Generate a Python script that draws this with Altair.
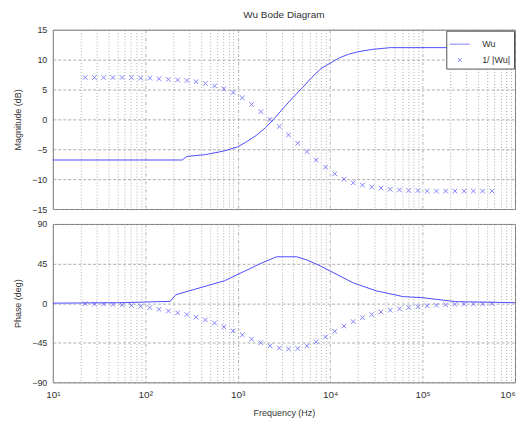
import altair as alt
import pandas as pd

TITLE = "Wu Bode Diagram"
SERIES = ["Wu", "1/ |Wu|"]

# Wu magnitude (solid line)
line_mag_hz = [10, 251, 282, 447, 708, 1000, 1259, 1585, 1995, 2512, 3162, 3981,
               5012, 6310, 7943, 10000, 12589, 15849, 19953, 28184, 44668, 1000000]
line_mag_db = [-6.8, -6.8, -6.2, -5.9, -5.3, -4.6, -3.7, -2.7, -1.4, 0.2, 2.0, 3.7,
               5.3, 7.0, 8.5, 9.4, 10.3, 10.9, 11.3, 11.7, 12.0, 12.0]

# Wu phase (solid line)
line_ph_hz = [10, 52.5, 186, 214, 724, 1738, 2630, 4365, 5623, 7762, 17783, 31623,
              61660, 100000, 229087, 1000000]
line_ph_deg = [0, 0.5, 2, 9.6, 25.5, 44.7, 52.7, 52.7, 49, 42.5, 23, 14,
               7.4, 6.2, 1.7, 0.5]

# 1/|Wu| markers
mk_hz = [22.4, 28.2, 35.5, 44.7, 56.2, 70.8, 89.1, 112, 141, 178, 224, 282, 355, 447,
         562, 708, 891, 1122, 1413, 1778, 2239, 2818, 3548, 4467, 5623, 7079, 8913,
         11220, 14125, 17783, 22387, 28184, 35481, 44668, 56234, 70795, 89125,
         112202, 141254, 177828, 223872, 281838, 354813, 446684, 562341]
mk_db = [7.0, 7.0, 7.0, 7.0, 7.0, 7.0, 6.9, 6.9, 6.8, 6.7, 6.6, 6.5, 6.3, 6.0,
         5.6, 5.1, 4.5, 3.6, 2.5, 1.3, 0.0, -1.2, -2.6, -4.0, -5.4, -6.8, -8.0,
         -9.1, -10.0, -10.6, -11.0, -11.3, -11.5, -11.7, -11.8, -11.9, -11.9,
         -12.0, -12.0, -12.0, -12.0, -12.0, -12.0, -12.0, -12.0]
mk_deg = [-0.5, -1, -1, -1.5, -2, -2.5, -3.5, -5, -7, -9, -11, -13, -16, -19,
          -22.5, -27, -31.5, -36, -41, -45, -48.5, -51, -52, -51.5, -48.5, -44,
          -38.5, -32, -26, -21, -16.5, -13, -10, -8, -6.5, -5, -4, -3, -2.3, -1.8,
          -1.4, -1.1, -0.9, -0.7, -0.5]

mag_ticks = [-15, -10, -5, 0, 5, 10, 15]
ph_ticks = [-90, -45, 0, 45, 90]
x_ticks = [m * 10 ** k for k in range(1, 6) for m in range(1, 10)] + [10 ** 6]

BLUE = "#4d4dff"
XPATH = "M-0.2,-0.2L0.2,0.2M0.2,-0.2L-0.2,0.2"
FONT = "Liberation Sans"
W, H1, H2 = 464, 180, 159

mag_line_df = pd.DataFrame({"f": line_mag_hz, "v": line_mag_db, "s": SERIES[0]})
ph_line_df = pd.DataFrame({"f": line_ph_hz, "v": line_ph_deg, "s": SERIES[0]})
mk_mag_df = pd.DataFrame({"f": mk_hz, "v": mk_db, "s": SERIES[1]})
mk_ph_df = pd.DataFrame({"f": mk_hz, "v": mk_deg, "s": SERIES[1]})

major_test = "abs(log(datum.value)/LN10 - round(log(datum.value)/LN10)) < 0.001"
xscale = alt.Scale(type="log", domain=[10, 1e6], nice=False)
x_grid_dash = {"condition": {"test": major_test, "value": [3, 2, 1, 2]}, "value": [1, 2]}

x_axis_top = alt.Axis(values=x_ticks, labels=False, ticks=False, title=None,
                      domain=False, grid=True, gridDash=x_grid_dash,
                      labelPadding=0, minExtent=0, maxExtent=0)
x_axis_bot = alt.Axis(values=x_ticks, ticks=False, title="Frequency (Hz)", domain=False,
                      grid=True, gridDash=x_grid_dash, labelFlush=False, labelOverlap=False,
                      labelPadding=7, titlePadding=9, labelFontSize=10,
                      labelAlign={"condition": {"test": "datum.value >= 999999", "value": "right"},
                                  "value": "center"},
                      labelExpr=major_test + " ? '10' + ['\u2070','\u00b9','\u00b2','\u00b3','\u2074','\u2075','\u2076'][round(log(datum.value)/LN10)] : ''")


def yaxis(vals, title):
    return alt.Axis(values=vals, tickCount=len(vals), ticks=False, domain=False,
                    title=title, grid=True, gridDash=[3, 2], labelPadding=6,
                    titlePadding=9, labelOverlap=False)


top_line = alt.Chart(mag_line_df).mark_line(color=BLUE, strokeWidth=1).encode(
    x=alt.X("f:Q", scale=xscale, axis=x_axis_top),
    y=alt.Y("v:Q", scale=alt.Scale(domain=[-15, 15], nice=False),
            axis=yaxis(mag_ticks, "Magnitude (dB)")),
)
top_pts = alt.Chart(mk_mag_df).mark_point(color=BLUE, size=529, filled=False,
                                          strokeWidth=1).encode(
    x=alt.X("f:Q", scale=xscale, axis=x_axis_top),
    y=alt.Y("v:Q", scale=alt.Scale(domain=[-15, 15], nice=False),
            axis=yaxis(mag_ticks, "Magnitude (dB)")),
    shape=alt.Shape("s:N", scale=alt.Scale(domain=SERIES, range=["stroke", XPATH]),
                    legend=alt.Legend(title=None, orient="top-right", offset=1,
                                      padding=3, rowPadding=0, symbolSize=400,
                                      symbolStrokeColor=BLUE, symbolStrokeWidth=1,
                                      labelFontSize=9, labelFont=FONT, labelColor="#333",
                                      strokeColor="#555", fillColor="white",
                                      labelOffset=12)),
)
top = alt.layer(top_line, top_pts).properties(
    width=W, height=H1,
    title=alt.TitleParams(TITLE, anchor="middle", fontSize=10, font=FONT,
                          fontWeight="normal", color="#333", offset=6),
)

bot_line = alt.Chart(ph_line_df).mark_line(color=BLUE, strokeWidth=1).encode(
    x=alt.X("f:Q", scale=xscale, axis=x_axis_bot),
    y=alt.Y("v:Q", scale=alt.Scale(domain=[-90, 90], nice=False),
            axis=yaxis(ph_ticks, "Phase (deg)")),
)
bot_pts = alt.Chart(mk_ph_df).mark_point(color=BLUE, size=529, filled=False,
                                         strokeWidth=1, shape=XPATH).encode(
    x=alt.X("f:Q", scale=xscale, axis=x_axis_bot),
    y=alt.Y("v:Q", scale=alt.Scale(domain=[-90, 90], nice=False),
            axis=yaxis(ph_ticks, "Phase (deg)")),
)
bot = alt.layer(bot_line, bot_pts).properties(width=W, height=H2)

chart = alt.vconcat(top, bot, spacing=4).resolve_legend(shape="independent").properties(
    padding={"left": 5, "top": 0, "right": 0, "bottom": 0}
).configure_view(stroke="#777", strokeWidth=1).configure_axis(
    labelFont=FONT, titleFont=FONT, labelFontSize=9, titleFontSize=9,
    labelColor="#333", titleColor="#333", titleFontWeight="normal",
    gridColor="#999", gridWidth=0.8, gridOpacity=1,
)

chart.save("out.html", embed_options={"renderer": "svg", "actions": False})
